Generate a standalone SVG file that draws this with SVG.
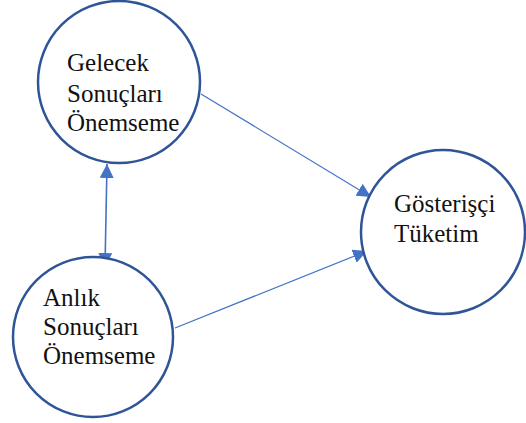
<svg xmlns="http://www.w3.org/2000/svg" width="526" height="423" viewBox="0 0 526 423">
<style>
.node{fill:#fff;stroke:#2F5597;stroke-width:2.5}
.lbl{font-family:"Liberation Serif",serif;font-size:25px;fill:#111}
.con{stroke:#4472C4;stroke-width:1.2;fill:none}
</style>
<defs>
<marker id="ah" viewBox="0 0 10 10" refX="10" refY="5" markerWidth="14" markerHeight="14" markerUnits="userSpaceOnUse" orient="auto-start-reverse">
<path d="M0,0 L10,5 L0,10 z" fill="#4472C4"/>
</marker>
</defs>
<rect width="526" height="423" fill="#fff"/>
<g id="connectors">
<line class="con" x1="201" y1="94" x2="371" y2="197" marker-end="url(#ah)"/>
<line class="con" x1="175" y1="328" x2="367" y2="251" marker-end="url(#ah)"/>
<line class="con" x1="107" y1="164" x2="105" y2="267" marker-start="url(#ah)" marker-end="url(#ah)" style="stroke-width:1.6"/>
</g>
<g id="gelecek">
<circle class="node" cx="119" cy="82" r="81"/>
<text class="lbl" x="67" y="71">Gelecek</text>
<text class="lbl" x="67" y="102">Sonuçları</text>
<text class="lbl" x="67" y="131">Önemseme</text>
</g>
<g id="anlik">
<circle class="node" cx="93" cy="337" r="80"/>
<text class="lbl" x="43" y="306">Anlık</text>
<text class="lbl" x="43" y="335">Sonuçları</text>
<text class="lbl" x="43" y="364">Önemseme</text>
</g>
<g id="gosterisci">
<circle class="node" cx="443" cy="232" r="82"/>
<text class="lbl" x="394" y="212">Gösterişçi</text>
<text class="lbl" x="394" y="242">Tüketim</text>
</g>
</svg>
